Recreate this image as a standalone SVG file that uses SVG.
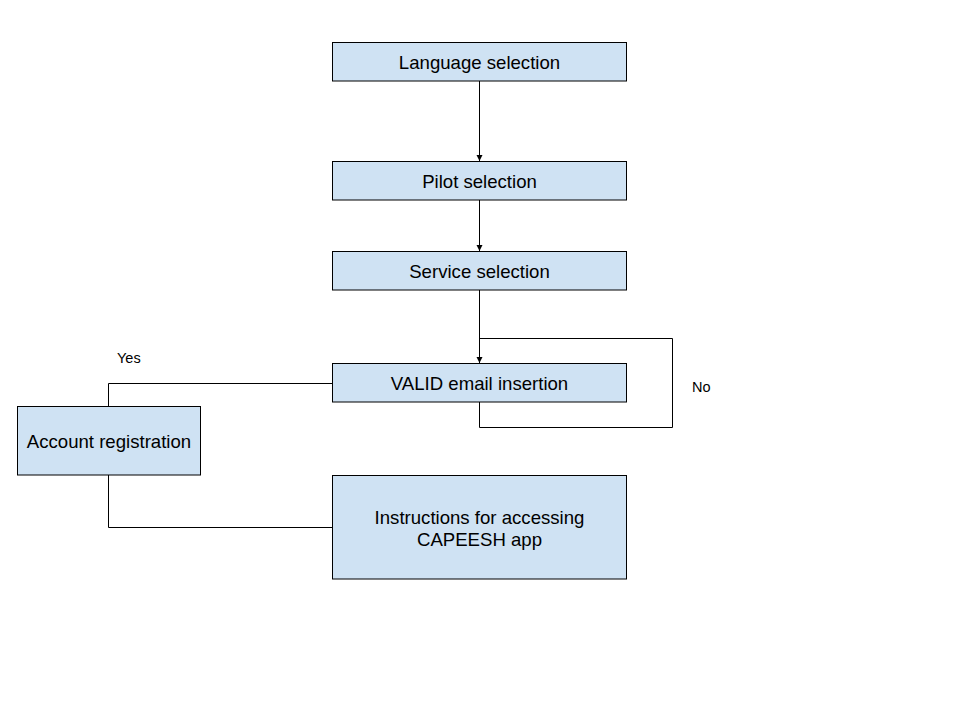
<svg xmlns="http://www.w3.org/2000/svg" width="961" height="720" viewBox="0 0 961 720">
<defs>
<style>
.box{fill:#cfe2f3;stroke:#000;stroke-width:1}
.t{font-family:"Liberation Sans",Arial,sans-serif;font-size:18.6px;fill:#000;text-anchor:middle;dominant-baseline:central}
.l{font-family:"Liberation Sans",Arial,sans-serif;font-size:14.5px;fill:#000}
.c{fill:none;stroke:#000;stroke-width:1}
</style>
<marker id="ah" viewBox="0 0 6 8" refX="6" refY="4" markerWidth="6" markerHeight="8" markerUnits="userSpaceOnUse" orient="auto">
<path d="M0,1 L6,4 L0,7 z" fill="#000"/>
</marker>
</defs>
<rect width="961" height="720" fill="#fff"/>
<g id="connectors">
<path class="c" d="M479.5,81 V161" marker-end="url(#ah)"/>
<path class="c" d="M479.5,200 V251" marker-end="url(#ah)"/>
<path class="c" d="M479.5,290 V363" marker-end="url(#ah)"/>
<path class="c" d="M479.5,402 V427.5 H672.5 V338.5 H479.5"/>
<path class="c" d="M332.5,383.5 H108.5 V406"/>
<path class="c" d="M108.5,475 V527.5 H332.5"/>
</g>
<g id="n1"><rect class="box" x="332.5" y="42.5" width="294" height="38.5"/><text class="t" x="479.5" y="62">Language selection</text></g>
<g id="n2"><rect class="box" x="332.5" y="161.5" width="294" height="38.5"/><text class="t" x="479.5" y="181">Pilot selection</text></g>
<g id="n3"><rect class="box" x="332.5" y="251.5" width="294" height="38.5"/><text class="t" x="479.5" y="271">Service selection</text></g>
<g id="n4"><rect class="box" x="332.5" y="363.5" width="294" height="38.5"/><text class="t" x="479.5" y="383">VALID email insertion</text></g>
<g id="n5"><rect class="box" x="17.5" y="406.5" width="183" height="68.5"/><text class="t" x="109" y="441">Account registration</text></g>
<g id="n6"><rect class="box" x="332.5" y="475.5" width="294" height="103.5"/><text class="t" x="479.5" y="517">Instructions for accessing</text><text class="t" x="479.5" y="539">CAPEESH app</text></g>
<g id="labels">
<text class="l" x="117" y="363">Yes</text>
<text class="l" x="692" y="392">No</text>
</g>
</svg>
